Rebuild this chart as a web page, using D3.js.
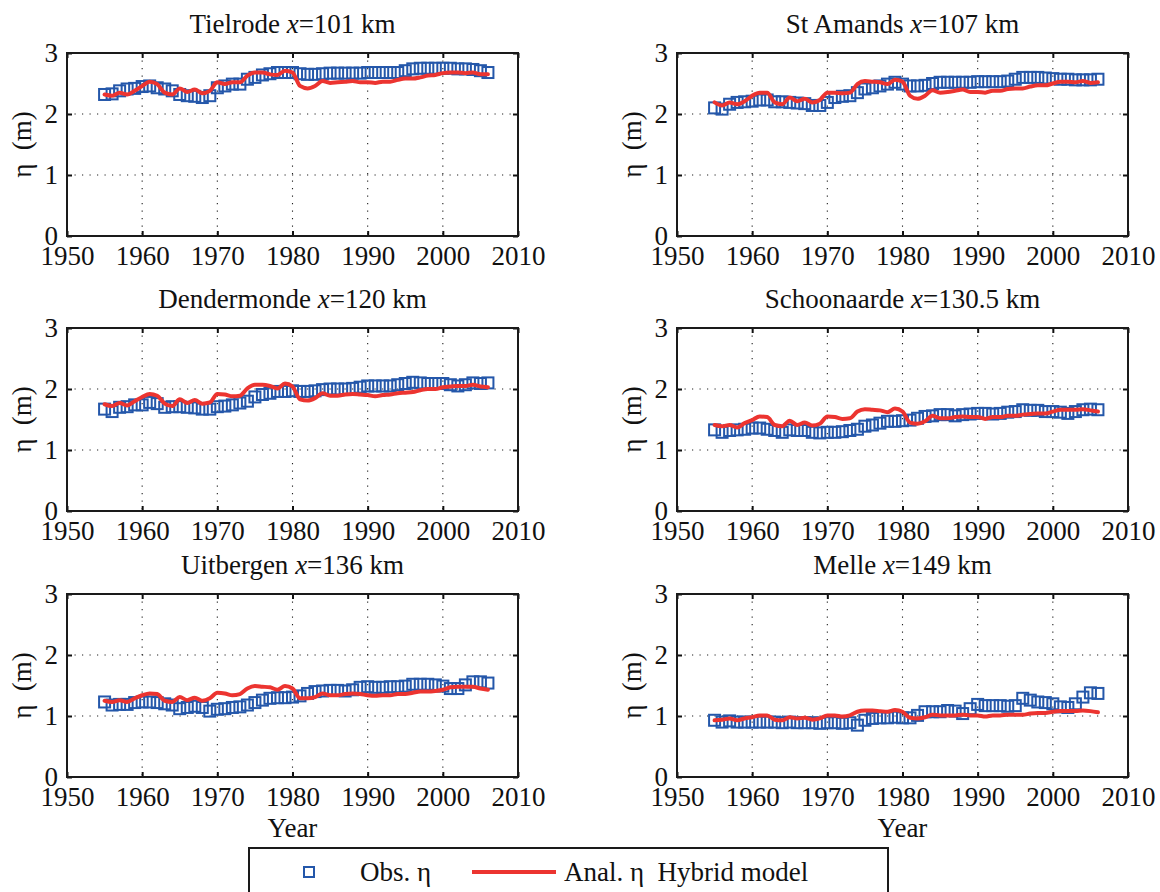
<!DOCTYPE html>
<html>
<head>
<meta charset="utf-8">
<script src="https://cdn.jsdelivr.net/npm/d3@7"></script>
<style>
  html, body { margin: 0; padding: 0; background: #fff; }
  svg text { font-family: "Liberation Serif", "Times New Roman", serif; fill: #111; white-space: pre; }
</style>
</head>
<body>
<svg id="chart" width="1160" height="892"></svg>
<script>
// Observation years (annual means)
const years = d3.range(1955, 2007);

// Station names and along-channel distance (km)
const stations = ["Tielrode", "St Amands", "Dendermonde", "Schoonaarde", "Uitbergen", "Melle"];
const distances = ["101", "107", "120", "130.5", "136", "149"];

// Axis ticks
const xTicks = [1950, 1960, 1970, 1980, 1990, 2000, 2010];
const yTicks = [0, 1, 2, 3];

// Observed mean water level η (m), one value per year 1955–2006
const obsTielrode = [2.32,2.33,2.38,2.41,2.42,2.45,2.46,2.43,2.41,2.38,2.32,2.30,2.29,2.27,2.30,2.43,2.46,2.49,2.49,2.57,2.60,2.64,2.66,2.68,2.68,2.68,2.66,2.65,2.65,2.66,2.67,2.67,2.67,2.67,2.67,2.68,2.68,2.68,2.68,2.68,2.71,2.74,2.75,2.75,2.75,2.75,2.75,2.74,2.74,2.73,2.71,2.68];
const obsStAmands = [2.10,2.08,2.16,2.19,2.20,2.21,2.23,2.23,2.20,2.20,2.19,2.18,2.17,2.14,2.14,2.19,2.27,2.29,2.30,2.35,2.41,2.43,2.46,2.49,2.52,2.49,2.46,2.46,2.47,2.50,2.52,2.52,2.52,2.52,2.52,2.53,2.53,2.53,2.53,2.54,2.57,2.60,2.60,2.60,2.59,2.58,2.57,2.57,2.56,2.56,2.56,2.57];
const obsDendermonde = [1.67,1.63,1.70,1.71,1.74,1.74,1.78,1.76,1.70,1.71,1.71,1.70,1.69,1.67,1.67,1.71,1.72,1.74,1.77,1.80,1.87,1.91,1.93,1.96,1.96,1.97,1.96,1.96,1.97,1.99,2.00,2.00,2.00,2.01,2.03,2.05,2.05,2.05,2.05,2.07,2.09,2.11,2.10,2.09,2.09,2.09,2.07,2.05,2.07,2.10,2.09,2.10];
const obsSchoonaarde = [1.33,1.29,1.32,1.33,1.34,1.36,1.36,1.34,1.32,1.29,1.33,1.32,1.32,1.29,1.28,1.29,1.29,1.30,1.32,1.34,1.39,1.41,1.44,1.47,1.47,1.48,1.49,1.52,1.55,1.56,1.58,1.58,1.56,1.58,1.59,1.60,1.60,1.59,1.60,1.62,1.63,1.66,1.65,1.65,1.63,1.63,1.62,1.60,1.63,1.66,1.67,1.66];
const obsUitbergen = [1.23,1.18,1.19,1.19,1.22,1.23,1.23,1.22,1.20,1.18,1.12,1.14,1.16,1.14,1.08,1.11,1.12,1.14,1.15,1.18,1.22,1.26,1.29,1.30,1.30,1.31,1.33,1.37,1.40,1.41,1.42,1.42,1.41,1.43,1.47,1.48,1.47,1.47,1.48,1.48,1.49,1.52,1.52,1.52,1.51,1.49,1.45,1.45,1.51,1.56,1.56,1.54];
const obsMelle = [0.93,0.90,0.92,0.90,0.90,0.90,0.90,0.90,0.90,0.89,0.90,0.89,0.89,0.89,0.88,0.89,0.89,0.88,0.89,0.85,0.93,0.96,0.97,0.97,0.98,0.97,0.97,1.01,1.07,1.07,1.07,1.09,1.08,1.04,1.12,1.19,1.17,1.17,1.17,1.16,1.17,1.29,1.26,1.23,1.22,1.20,1.15,1.14,1.20,1.31,1.38,1.37];

// Analytical η from the hybrid model, 1955–2006
const anaTielrode = [2.32,2.30,2.35,2.32,2.38,2.46,2.53,2.49,2.35,2.32,2.42,2.36,2.40,2.34,2.38,2.52,2.49,2.52,2.52,2.63,2.68,2.68,2.65,2.64,2.71,2.68,2.46,2.42,2.46,2.54,2.51,2.52,2.53,2.54,2.52,2.52,2.51,2.53,2.53,2.56,2.58,2.58,2.60,2.63,2.64,2.67,2.68,2.68,2.67,2.68,2.65,2.65];
const anaStAmands = [2.19,2.14,2.19,2.16,2.21,2.30,2.35,2.35,2.19,2.16,2.27,2.21,2.25,2.19,2.23,2.35,2.35,2.34,2.35,2.49,2.54,2.53,2.52,2.49,2.56,2.53,2.30,2.25,2.30,2.39,2.35,2.36,2.38,2.40,2.36,2.36,2.35,2.38,2.38,2.41,2.42,2.42,2.45,2.47,2.47,2.50,2.53,2.53,2.52,2.54,2.51,2.52];
const anaDendermonde = [1.75,1.72,1.77,1.73,1.80,1.87,1.92,1.89,1.76,1.72,1.83,1.77,1.82,1.76,1.78,1.92,1.91,1.88,1.89,2.01,2.07,2.07,2.05,2.01,2.09,2.04,1.83,1.81,1.85,1.93,1.89,1.89,1.91,1.92,1.91,1.90,1.88,1.90,1.91,1.93,1.94,1.95,1.98,2.00,2.00,2.03,2.04,2.05,2.05,2.07,2.04,2.03];
const anaSchoonaarde = [1.41,1.39,1.41,1.37,1.44,1.49,1.55,1.54,1.41,1.39,1.48,1.41,1.45,1.40,1.43,1.55,1.54,1.51,1.52,1.63,1.67,1.66,1.65,1.62,1.68,1.63,1.45,1.43,1.47,1.56,1.52,1.52,1.54,1.55,1.54,1.54,1.51,1.54,1.54,1.56,1.56,1.58,1.59,1.60,1.60,1.63,1.66,1.66,1.66,1.67,1.65,1.63];
const anaUitbergen = [1.25,1.23,1.26,1.23,1.29,1.34,1.37,1.36,1.25,1.23,1.31,1.26,1.30,1.25,1.29,1.38,1.37,1.34,1.36,1.45,1.49,1.48,1.47,1.43,1.49,1.45,1.29,1.29,1.31,1.37,1.34,1.34,1.36,1.37,1.36,1.34,1.33,1.34,1.34,1.36,1.36,1.38,1.40,1.40,1.41,1.43,1.47,1.48,1.48,1.48,1.45,1.43];
const anaMelle = [0.93,0.94,0.96,0.93,0.96,0.98,1.01,1.01,0.94,0.93,0.98,0.96,0.97,0.94,0.96,1.01,1.01,0.99,1.01,1.07,1.09,1.09,1.08,1.07,1.10,1.07,0.97,0.96,0.98,1.02,1.01,1.01,1.01,1.02,1.01,1.01,0.99,1.01,1.01,1.02,1.02,1.02,1.04,1.05,1.05,1.07,1.08,1.08,1.08,1.09,1.08,1.06];

const observed = [obsTielrode, obsStAmands, obsDendermonde, obsSchoonaarde, obsUitbergen, obsMelle];
const analytical = [anaTielrode, anaStAmands, anaDendermonde, anaSchoonaarde, anaUitbergen, anaMelle];

const svg = d3.select("#chart");
const blue = "#2457aa";
const red = "#ec3430";
const fontSize = 27;
const serif = '"Liberation Serif", "Times New Roman", serif';

// Subplot frames: two columns, three rows
const colX = [67, 677];
const rowY = [53, 328, 594];
const pw = 451, ph = 183;

stations.forEach((name, i) => {
  const col = i % 2, row = Math.floor(i / 2);
  const g = svg.append("g").attr("transform", `translate(${colX[col]},${rowY[row]})`);
  const x = d3.scaleLinear().domain([1950, 2010]).range([0, pw]);
  const y = d3.scaleLinear().domain([0, 3]).range([ph, 0]);

  // dotted grid
  g.append("g").selectAll("line").data(xTicks.slice(1, -1)).join("line")
    .attr("x1", d => x(d)).attr("x2", d => x(d)).attr("y1", 0).attr("y2", ph)
    .attr("stroke", "#222").attr("stroke-width", 1.1).attr("stroke-dasharray", "1.2,6.3");
  g.append("g").selectAll("line").data(yTicks.slice(1, -1)).join("line")
    .attr("y1", d => y(d)).attr("y2", d => y(d)).attr("x1", 0).attr("x2", pw)
    .attr("stroke", "#222").attr("stroke-width", 1.1).attr("stroke-dasharray", "1.2,6.3");

  // observed η as open squares
  const obs = observed[i];
  g.append("g").selectAll("rect").data(years).join("rect")
    .attr("x", (d) => x(d) - 5.5).attr("y", (d, k) => y(obs[k]) - 5.5)
    .attr("width", 11).attr("height", 11)
    .attr("fill", "none").attr("stroke", blue).attr("stroke-width", 2);

  // analytical η line
  const ana = analytical[i];
  const line = d3.line().x(d => x(d)).y((d, k) => y(ana[k])).curve(d3.curveMonotoneX);
  g.append("path").datum(years).attr("d", line)
    .attr("fill", "none").attr("stroke", red).attr("stroke-width", 4)
    .attr("stroke-linejoin", "round").attr("stroke-linecap", "round");

  // axes with inward ticks on all four sides
  const fmt = d3.format("d");
  const axB = g.append("g").attr("transform", `translate(0,${ph})`)
    .call(d3.axisBottom(x).tickValues(xTicks).tickFormat(fmt).tickSize(-5).tickPadding(12));
  const axT = g.append("g").call(d3.axisTop(x).tickValues(xTicks).tickFormat("").tickSize(-5));
  const axL = g.append("g").call(d3.axisLeft(y).tickValues(yTicks).tickFormat(fmt).tickSize(-5).tickPadding(9));
  const axR = g.append("g").attr("transform", `translate(${pw},0)`)
    .call(d3.axisRight(y).tickValues(yTicks).tickFormat("").tickSize(-5));
  [axB, axT, axL, axR].forEach(a => {
    a.attr("font-size", fontSize).attr("font-family", serif);
    a.select(".domain").remove();
    a.selectAll(".tick line").attr("stroke", "#111").attr("stroke-width", 2);
    a.selectAll("text").attr("font-size", fontSize).attr("fill", "#111")
      .style("font-family", serif);
  });
  axL.selectAll("text").attr("dy", "0.3em");
  axB.selectAll("text").attr("dy", "0.62em");

  // frame
  g.append("rect").attr("width", pw).attr("height", ph)
    .attr("fill", "none").attr("stroke", "#1a1a1a").attr("stroke-width", 2);

  // title
  const t = g.append("text").attr("x", pw / 2).attr("y", -20)
    .attr("text-anchor", "middle").attr("font-size", fontSize);
  t.append("tspan").text(name + " ");
  t.append("tspan").attr("font-style", "italic").text("x");
  t.append("tspan").text("=" + distances[i] + " km");

  // y label
  g.append("text").attr("transform", `translate(-36,${ph / 2}) rotate(-90)`)
    .attr("text-anchor", "middle").attr("font-size", fontSize).text("η  (m)");

  // x label on bottom row
  if (row === 2) {
    g.append("text").attr("x", pw / 2).attr("y", ph + 60)
      .attr("text-anchor", "middle").attr("font-size", fontSize).text("Year");
  }
});

// legend
const lg = svg.append("g");
lg.append("rect").attr("x", 249).attr("y", 848).attr("width", 639).attr("height", 60)
  .attr("fill", "#fff").attr("stroke", "#1a1a1a").attr("stroke-width", 2);
lg.append("rect").attr("x", 304).attr("y", 867).attr("width", 10).attr("height", 10)
  .attr("fill", "none").attr("stroke", blue).attr("stroke-width", 2);
lg.append("text").attr("x", 360).attr("y", 881).attr("font-size", fontSize).text("Obs. η");
lg.append("line").attr("x1", 472).attr("x2", 556).attr("y1", 872).attr("y2", 872)
  .attr("stroke", red).attr("stroke-width", 4);
lg.append("text").attr("x", 564).attr("y", 881).attr("font-size", fontSize).text("Anal. η  Hybrid model");
</script>
</body>
</html>
